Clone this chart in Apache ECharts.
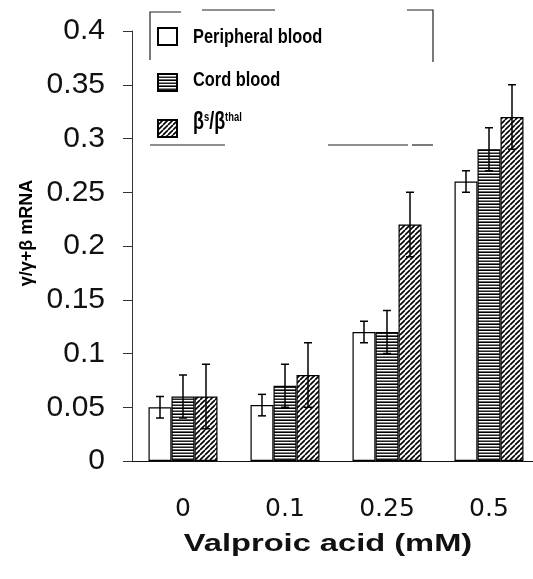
<!DOCTYPE html>
<html>
<head>
<meta charset="utf-8">
<script src="https://cdn.jsdelivr.net/npm/echarts@6/dist/echarts.min.js"></script>
<style>
  html, body { margin: 0; padding: 0; background: #fff; }
  #chart { width: 533px; height: 579px; }
</style>
</head>
<body>
<div id="chart"></div>
<script>
// data
const doses = ['0', '0.1', '0.25', '0.5']
const names = ['Peripheral blood', 'Cord blood', 'βs/βthal']
const peripheral = [0.05, 0.052, 0.12, 0.26]
const peripheralErr = [0.01, 0.01, 0.01, 0.01]
const cord = [0.06, 0.07, 0.12, 0.29]
const cordErr = [0.02, 0.02, 0.02, 0.02]
const thal = [0.06, 0.08, 0.22, 0.32]
const thalErr = [0.03, 0.03, 0.03, 0.03]

const BAR_W = 23
const sans = "'Liberation Sans', Arial, sans-serif"

// horizontal stripes for cord blood
function stripes () {
  const c = document.createElement('canvas')
  c.width = 4
  c.height = 6
  const ctx = c.getContext('2d')
  const rows = ['#000', '#fff', '#888', '#222', '#fff', '#666']
  rows.forEach((col, i) => {
    ctx.fillStyle = col
    ctx.fillRect(0, i, 4, 1)
  })
  return c
}

// diagonal hatching for beta-s/beta-thal
function hatch () {
  const c = document.createElement('canvas')
  c.width = 5
  c.height = 5
  const ctx = c.getContext('2d')
  ctx.fillStyle = '#fff'
  ctx.fillRect(0, 0, 5, 5)
  ctx.strokeStyle = '#000'
  ctx.lineWidth = 1.6
  ctx.beginPath()
  for (let k = -5; k <= 10; k += 5) {
    ctx.moveTo(k, 5)
    ctx.lineTo(k + 5, 0)
  }
  ctx.stroke()
  return c
}

function errData (vals, errs) {
  return vals.map((v, i) => [i, v - errs[i], v + errs[i]])
}

function errorBar (offset) {
  return function (params, api) {
    const x = api.value(0)
    const lo = api.coord([x, api.value(1)])
    const hi = api.coord([x, api.value(2)])
    const cx = lo[0] + offset
    const w = 4
    const st = { stroke: '#000', lineWidth: 1.5 }
    return {
      type: 'group',
      children: [
        { type: 'line', shape: { x1: cx, y1: hi[1], x2: cx, y2: lo[1] }, style: st },
        { type: 'line', shape: { x1: cx - w, y1: hi[1], x2: cx + w, y2: hi[1] }, style: st },
        { type: 'line', shape: { x1: cx - w, y1: lo[1], x2: cx + w, y2: lo[1] }, style: st }
      ]
    }
  }
}

// condensed bold label next to a legend icon
function legendText (y, text, rich) {
  return {
    type: 'text',
    x: 193,
    y: y,
    scaleX: 0.78,
    style: {
      text: text,
      font: 'bold 21px ' + sans,
      fill: '#000',
      align: 'left',
      verticalAlign: 'middle',
      rich: rich
    }
  }
}

const chart = echarts.init(document.getElementById('chart'))

const frame = { stroke: '#222', lineWidth: 1.2 }
const option = {
  animation: false,
  backgroundColor: '#fff',
  grid: { left: 132, top: 31, width: 408, height: 430, outerBoundsMode: 'none' },
  legend: {
    data: names,
    orient: 'vertical',
    left: 157,
    top: 27,
    padding: 0,
    itemWidth: 19,
    itemHeight: 17,
    itemGap: 27,
    icon: 'rect',
    formatter: () => ''
  },
  xAxis: {
    type: 'category',
    data: doses,
    axisLine: { lineStyle: { color: '#111', width: 1.2 } },
    axisTick: { length: 10, lineStyle: { color: '#111' } },
    axisLabel: { fontFamily: "'DejaVu Sans', sans-serif", fontSize: 25, color: '#111', margin: 36 }
  },
  yAxis: {
    type: 'value',
    min: 0,
    max: 0.4,
    interval: 0.05,
    splitLine: { show: false },
    axisLine: { show: true, lineStyle: { color: '#333', width: 1 } },
    axisTick: { show: true, length: 9, lineStyle: { color: '#333' } },
    axisLabel: { fontFamily: sans, fontSize: 30, color: '#111', margin: 27 }
  },
  series: [
    {
      name: names[0],
      type: 'bar',
      barWidth: BAR_W,
      barGap: '0%',
      data: peripheral,
      itemStyle: { color: '#fff', borderColor: '#000', borderWidth: 1.2 }
    },
    {
      name: names[1],
      type: 'bar',
      barWidth: BAR_W,
      barGap: '0%',
      data: cord,
      itemStyle: { color: { image: stripes(), repeat: 'repeat' }, borderColor: '#000', borderWidth: 1.2 }
    },
    {
      name: names[2],
      type: 'bar',
      barWidth: BAR_W,
      barGap: '0%',
      data: thal,
      itemStyle: { color: { image: hatch(), repeat: 'repeat' }, borderColor: '#000', borderWidth: 1.2 }
    },
    { type: 'custom', renderItem: errorBar(-BAR_W), data: errData(peripheral, peripheralErr), z: 5 },
    { type: 'custom', renderItem: errorBar(0), data: errData(cord, cordErr), z: 5 },
    { type: 'custom', renderItem: errorBar(BAR_W), data: errData(thal, thalErr), z: 5 }
  ],
  graphic: [
    // remains of the frame around the legend
    { type: 'polyline', shape: { points: [[150, 60], [150, 12], [181, 12]] }, style: frame },
    { type: 'line', shape: { x1: 202, y1: 10, x2: 275, y2: 10 }, style: frame },
    { type: 'polyline', shape: { points: [[407, 10], [433, 10], [433, 62]] }, style: frame },
    { type: 'line', shape: { x1: 150, y1: 145, x2: 225, y2: 145 }, style: frame },
    { type: 'line', shape: { x1: 328, y1: 145, x2: 408, y2: 145 }, style: frame },
    { type: 'line', shape: { x1: 412, y1: 145, x2: 433, y2: 145 }, style: frame },
    legendText(37, names[0]),
    legendText(80, names[1]),
    legendText(123, '{b|β}{s|s}{b|/β}{s|thal}', {
      b: { font: 'bold 23px ' + sans, fill: '#000' },
      s: { font: 'bold 12px ' + sans, fill: '#000', verticalAlign: 'top', padding: [0, 0, 10, 0] }
    }),
    {
      type: 'text',
      x: 27,
      y: 233,
      rotation: Math.PI / 2,
      style: {
        text: 'γ/γ+β mRNA',
        font: 'bold 18px ' + sans,
        fill: '#000',
        align: 'center',
        verticalAlign: 'middle'
      }
    },
    {
      type: 'text',
      x: 328,
      y: 544,
      scaleX: 1.36,
      style: {
        text: 'Valproic acid (mM)',
        font: 'bold 24px ' + sans,
        fill: '#111',
        align: 'center',
        verticalAlign: 'middle'
      }
    }
  ]
}

chart.setOption(option)
</script>
</body>
</html>
